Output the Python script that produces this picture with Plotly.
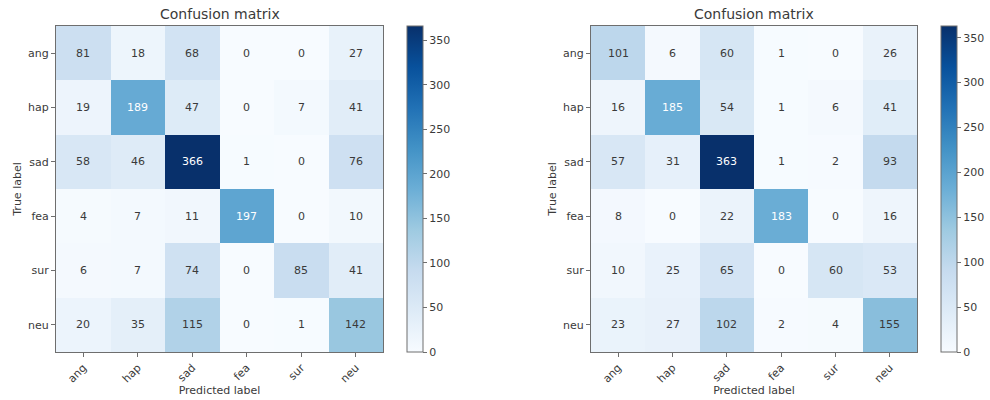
import plotly.graph_objects as go

# Emotion classes (rows = true label, columns = predicted label)
labels = ["ang", "hap", "sad", "fea", "sur", "neu"]

cm_left = [
    [81, 18, 68, 0, 0, 27],
    [19, 189, 47, 0, 7, 41],
    [58, 46, 366, 1, 0, 76],
    [4, 7, 11, 197, 0, 10],
    [6, 7, 74, 0, 85, 41],
    [20, 35, 115, 0, 1, 142],
]

cm_right = [
    [101, 6, 60, 1, 0, 26],
    [16, 185, 54, 1, 6, 41],
    [57, 31, 363, 1, 2, 93],
    [8, 0, 22, 183, 0, 16],
    [10, 25, 65, 0, 60, 53],
    [23, 27, 102, 2, 4, 155],
]

cbar_ticks = [0, 50, 100, 150, 200, 250, 300, 350]

# matplotlib-style "Blues" colormap
blues = [
    [0.000, "#f7fbff"], [0.125, "#deebf7"], [0.250, "#c6dbef"],
    [0.375, "#9ecae1"], [0.500, "#6baed6"], [0.625, "#4292c6"],
    [0.750, "#2171b5"], [0.875, "#08519c"], [1.000, "#08306b"],
]

W, H = 990, 400
FONT = "DejaVu Sans"
TXT = "#3a3a3a"
EDGE = "#6e6e6e"

# pixel boxes for the two panels: (left, right, top, bottom), colorbar left
panels = [
    dict(cm=cm_left, box=(56, 383, 26, 352), cb_x=407),
    dict(cm=cm_right, box=(591, 917, 26, 352), cb_x=941),
]

fig = go.Figure()
annotations = []

for i, p in enumerate(panels, start=1):
    cm = p["cm"]
    x0, x1, y0, y1 = p["box"]
    zmax = max(max(r) for r in cm)
    xa = "x" if i == 1 else f"x{i}"
    ya = "y" if i == 1 else f"y{i}"
    fig.add_trace(go.Heatmap(
        z=cm, x=labels, y=labels,
        xaxis=xa, yaxis=ya,
        colorscale=blues, zmin=0, zmax=zmax,
        hoverinfo="z",
        colorbar=dict(
            x=p["cb_x"] / W, xanchor="left",
            y=1 - (y0 + y1) / 2 / H, yanchor="middle",
            len=(y1 - y0), lenmode="pixels",
            thickness=16, thicknessmode="pixels",
            outlinecolor=EDGE, outlinewidth=1,
            tickvals=cbar_ticks, ticks="outside", ticklen=4,
            tickcolor=EDGE, tickfont=dict(family=FONT, size=11, color=TXT),
            xpad=0, ypad=0,
        ),
    ))

    # cell counts, white on dark cells
    thresh = zmax / 2
    for r, row in enumerate(cm):
        for c, v in enumerate(row):
            annotations.append(dict(
                x=labels[c], y=labels[r], xref=xa, yref=ya,
                text=str(v), showarrow=False,
                font=dict(family=FONT, size=11,
                          color="white" if v > thresh else TXT),
            ))

    # panel title
    annotations.append(dict(
        x=(x0 + x1) / 2 / W, y=1 - 14 / H, xref="paper", yref="paper",
        xanchor="center", yanchor="middle",
        text="Confusion matrix", showarrow=False,
        font=dict(family=FONT, size=14, color=TXT),
    ))

    axis_common = dict(
        showline=True, linecolor=EDGE, linewidth=1, mirror=True,
        ticks="outside", ticklen=4, tickcolor=EDGE,
        tickfont=dict(family=FONT, size=11, color=TXT),
        showgrid=False, zeroline=False,
    )
    fig.update_layout(**{
        ("xaxis" if i == 1 else f"xaxis{i}"): dict(
            domain=[x0 / W, x1 / W], anchor=ya, tickangle=-45,
            title=dict(text="Predicted label", standoff=0,
                       font=dict(family=FONT, size=11, color=TXT)),
            **axis_common),
        ("yaxis" if i == 1 else f"yaxis{i}"): dict(
            domain=[1 - y1 / H, 1 - y0 / H], anchor=xa, autorange="reversed",
            title=dict(text="True label", standoff=4,
                       font=dict(family=FONT, size=11, color=TXT)),
            **axis_common),
    })

fig.update_layout(
    width=W, height=H,
    margin=dict(l=0, r=0, t=0, b=0),
    paper_bgcolor="white", plot_bgcolor="white",
    annotations=annotations,
    font=dict(family=FONT, color=TXT),
)

fig.write_html("out.html")
